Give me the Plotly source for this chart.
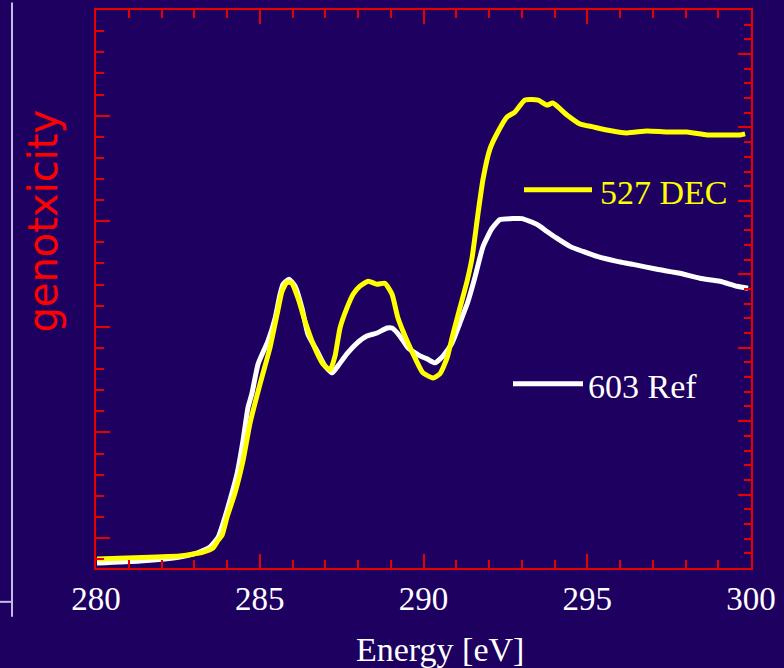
import plotly.graph_objects as go

# ---- data (energy in eV, intensity in arbitrary units) ----
ref_energy = [280.03, 281.34, 282.56, 283.08, 283.48, 283.73, 283.88, 284.09, 284.31, 284.49,
              284.64, 284.76, 284.95, 285.25, 285.47, 285.62, 285.71, 285.89, 286.08, 286.29,
              286.47, 286.75, 286.99, 287.21, 287.39, 287.66, 287.97, 288.27, 288.58, 288.89,
              289.04, 289.28, 289.53, 289.89, 290.11, 290.35, 290.60, 290.87, 291.11, 291.36,
              291.57, 291.82, 292.09, 292.34, 292.70, 293.01, 293.47, 293.77, 294.08, 294.47,
              294.87, 295.30, 295.91, 296.40, 297.13, 297.83, 298.44, 299.05, 299.57, 299.91]
ref_signal = [-0.236, -0.217, -0.179, -0.141, -0.085, 0.009, 0.141, 0.358, 0.613, 0.924,
              1.235, 1.367, 1.649, 1.866, 2.083, 2.309, 2.403, 2.451, 2.385, 2.177,
              1.932, 1.772, 1.631, 1.565, 1.631, 1.744, 1.847, 1.913, 1.942, 1.989,
              1.989, 1.913, 1.800, 1.725, 1.697, 1.659, 1.725, 1.847, 2.036, 2.243,
              2.469, 2.762, 2.931, 3.016, 3.025, 3.025, 2.969, 2.903, 2.837, 2.762,
              2.714, 2.667, 2.620, 2.592, 2.545, 2.507, 2.460, 2.432, 2.385, 2.366]

dec_energy = [280.03, 281.86, 282.56, 283.27, 283.57, 283.73, 283.85, 284.00, 284.24, 284.49,
              284.70, 285.01, 285.31, 285.53, 285.68, 285.83, 285.98, 286.17, 286.38, 286.63,
              286.93, 287.15, 287.30, 287.45, 287.66, 287.85, 288.06, 288.31, 288.58, 288.82,
              289.04, 289.22, 289.50, 289.74, 289.98, 290.29, 290.50, 290.72, 290.90, 291.11,
              291.33, 291.48, 291.66, 291.82, 292.03, 292.27, 292.55, 292.79, 293.10, 293.50,
              293.77, 293.95, 294.38, 294.78, 295.18, 295.60, 296.21, 296.82, 297.44, 298.05,
              298.66, 299.15, 299.66, 299.82]
dec_signal = [-0.198, -0.179, -0.170, -0.132, -0.094, -0.019, 0.028, 0.198, 0.424, 0.735,
              1.084, 1.461, 1.800, 2.121, 2.337, 2.422, 2.413, 2.271, 2.055, 1.838,
              1.649, 1.593, 1.725, 1.989, 2.177, 2.309, 2.385, 2.432, 2.403, 2.413,
              2.309, 2.083, 1.866, 1.706, 1.565, 1.517, 1.555, 1.706, 1.932, 2.177,
              2.432, 2.648, 3.063, 3.402, 3.685, 3.845, 3.987, 4.034, 4.147, 4.147,
              4.100, 4.119, 4.006, 3.921, 3.893, 3.864, 3.836, 3.855, 3.845, 3.845,
              3.817, 3.817, 3.817, 3.827]

series_names = ["527 DEC", "603 Ref"]
x_tick_values = [280, 285, 290, 295, 300]
x_title = "Energy [eV]"
y_title = "genotxicity"

BG = "#1d0060"
RED = "#e80000"
YELLOW = "#ffff00"
WHITE = "#ffffff"

fig = go.Figure()
fig.add_trace(go.Scatter(x=ref_energy, y=ref_signal, mode="lines",
                         line=dict(color=WHITE, width=5, shape="spline", smoothing=0.5),
                         name=series_names[1], showlegend=False))
fig.add_trace(go.Scatter(x=dec_energy, y=dec_signal, mode="lines",
                         line=dict(color=YELLOW, width=5, shape="spline", smoothing=0.5),
                         name=series_names[0], showlegend=False))
# anchor trace for the right-hand tick scale
fig.add_trace(go.Scatter(x=[None], y=[None], yaxis="y2", showlegend=False, hoverinfo="skip"))

serif = "Liberation Serif, Times New Roman, serif"

fig.update_layout(
    width=784, height=668,
    margin=dict(l=96, r=33, t=7.5, b=100),
    paper_bgcolor=BG, plot_bgcolor=BG,
    showlegend=False,
    xaxis=dict(range=[280, 300], tickvals=x_tick_values, ticks="inside",
               ticklen=14, tickwidth=2, tickcolor=RED,
               showline=True, linecolor=RED, linewidth=2, mirror="ticks",
               showgrid=False, zeroline=False,
               tickfont=dict(family=serif, size=33, color=WHITE),
               minor=dict(dtick=1, tick0=280, ticks="inside", ticklen=8,
                          tickwidth=2, tickcolor=RED, showgrid=False)),
    yaxis=dict(range=[-0.283, 5.0], dtick=1, tick0=0, ticks="inside",
               ticklen=14, tickwidth=2, tickcolor=RED, showticklabels=False,
               showline=True, linecolor=RED, linewidth=2, mirror=True,
               showgrid=False, zeroline=False,
               minor=dict(dtick=0.2, tick0=0, ticks="inside", ticklen=8,
                          tickwidth=2, tickcolor=RED, showgrid=False)),
    yaxis2=dict(range=[0, 7.6], dtick=1, tick0=0, overlaying="y", side="right",
                ticks="inside", ticklen=13, tickwidth=2, tickcolor=RED,
                showticklabels=False, showline=True, linecolor=RED, linewidth=2,
                showgrid=False, zeroline=False,
                minor=dict(dtick=0.2, tick0=0, ticks="inside", ticklen=7,
                           tickwidth=2, tickcolor=RED, showgrid=False)),
)

# axis titles
fig.add_annotation(text=x_title, xref="paper", yref="paper", x=(440 - 96) / 655,
                   y=(568 - 650) / 560.5, xanchor="center", yanchor="middle",
                   showarrow=False, font=dict(family=serif, size=34, color=WHITE))
fig.add_annotation(text=y_title, xref="paper", yref="paper", x=(43.5 - 96) / 655,
                   y=(568 - 219.5) / 560.5, xanchor="center", yanchor="middle",
                   textangle=-90, showarrow=False,
                   font=dict(family="DejaVu Sans, sans-serif", size=40, color="#ff0000"))

# in-plot legend
fig.add_shape(type="line", xref="paper", yref="paper",
              x0=(524 - 96) / 655, x1=(592 - 96) / 655,
              y0=(568 - 188) / 560.5, y1=(568 - 188) / 560.5,
              line=dict(color=YELLOW, width=5))
fig.add_annotation(text=series_names[0], xref="paper", yref="paper",
                   x=(598 - 96) / 655, y=(568 - 190.5) / 560.5,
                   xanchor="left", yanchor="middle", showarrow=False,
                   font=dict(family=serif, size=34, color=YELLOW))
fig.add_shape(type="line", xref="paper", yref="paper",
              x0=(513 - 96) / 655, x1=(583 - 96) / 655,
              y0=(568 - 383) / 560.5, y1=(568 - 383) / 560.5,
              line=dict(color=WHITE, width=5))
fig.add_annotation(text=series_names[1], xref="paper", yref="paper",
                   x=(586 - 96) / 655, y=(568 - 386) / 560.5,
                   xanchor="left", yanchor="middle", showarrow=False,
                   font=dict(family=serif, size=34, color=WHITE))

# thin lavender frame fragment at the left edge
LAV = "#c4bce6"
fig.add_shape(type="line", xref="paper", yref="paper",
              x0=(12 - 96) / 655, x1=(12 - 96) / 655,
              y0=(568 - 0) / 560.5, y1=(568 - 617) / 560.5,
              line=dict(color=LAV, width=2))
fig.add_shape(type="line", xref="paper", yref="paper",
              x0=(0 - 96) / 655, x1=(12 - 96) / 655,
              y0=(568 - 602) / 560.5, y1=(568 - 602) / 560.5,
              line=dict(color=LAV, width=2))

fig.write_html("out.html")
